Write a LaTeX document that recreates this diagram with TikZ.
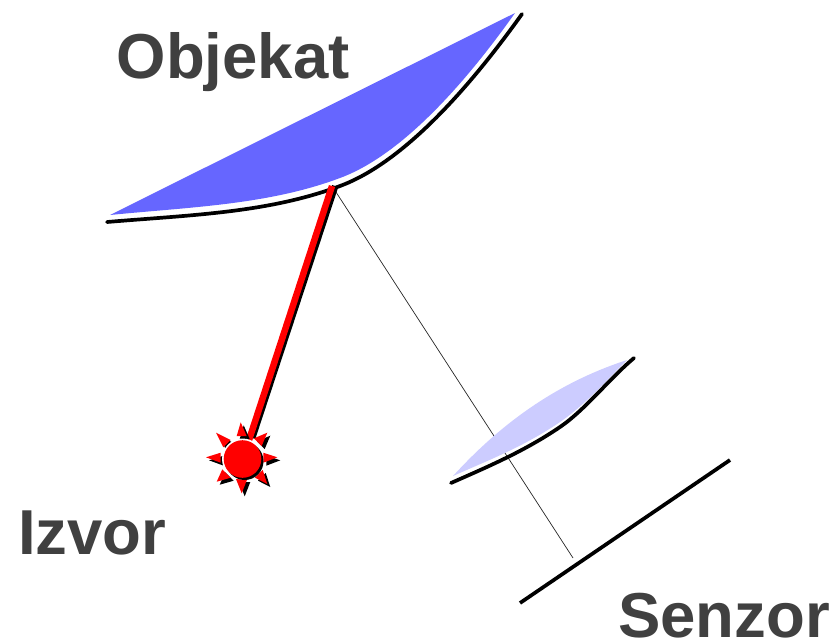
\documentclass[tikz,border=0pt]{standalone}
\usepackage{fontspec}
\setmainfont{Liberation Sans}
\definecolor{txt}{RGB}{64,64,64}
\definecolor{mirror}{RGB}{102,102,255}
\definecolor{lensc}{RGB}{204,204,255}
\tikzset{
  lab/.style={anchor=base west,inner sep=0pt,text=txt,font=\fontsize{63.5}{70}\selectfont\bfseries},
  curve/.style={draw=black,line width=3.7pt,line cap=round},
  ray/.style={black!85,line width=0.7pt}
}
\begin{document}
\begin{tikzpicture}[x=1pt,y=-1pt]
\useasboundingbox (0,0) rectangle (834,643);
\node[lab] (obj) at (116.5,78) {Objekat};
\node[lab] (izv) at (18,554) {Izvor};
\node[lab] (sen) at (618,637) {Senzor};
\coordinate (hit) at (334,189);
\coordinate (sensorhit) at (573,558);
\coordinate (sunc) at (242.5,459);
\coordinate (beamtop) at (332,186);
\coordinate (beambot) at (249,440);
% thin ray
\draw[ray] (hit) -- (sensorhit);
% object mirror
\fill[mirror] (110,215) .. controls (190,207) and (268,205) .. (340,178) .. controls (405,154) and (470,76.5) .. (515,13) -- cycle;
\draw[curve] (107,222) .. controls (190,215) and (268,213) .. (340,186) .. controls (405,162) and (472,84) .. (522,14);
% lens
\fill[lensc] (453,476) .. controls (495,430) and (550,385) .. (627,360) .. controls (607,380) and (585,405) .. (560,422) .. controls (524,446.5) and (489,460) .. (453,476) -- cycle;
\draw[curve] (451,483) .. controls (487,467) and (524,451.5) .. (560,427) .. controls (585,410) and (610,378) .. (634,358);
% sensor
\draw[curve,line cap=butt] (520,603) -- (730,460);
% beam
\draw[line width=6.5pt,black] ([xshift=3.2pt]beamtop) -- ([xshift=3.2pt,yshift=2pt]beambot);
\draw[line width=6.5pt,red] (beamtop) -- (beambot);
% sun rays: shadows, then rays
\foreach \ax/\ay/\bx/\by/\cx/\cy in {
  240.7/422.3/236.7/436/246.7/436,
  277.3/457.3/263.3/452.7/263.3/462.7,
  206/457.3/220.7/452.7/220.7/462.7,
  241.7/493.3/236/479/247.3/479,
  267.3/432.7/254/438.3/261.7/446,
  216/432.7/230.7/440/223.3/447.3,
  216.7/481.7/222.3/469.3/230.7/477.7,
  267.3/484/255/477.7/262.7/470}{
  \fill[black,shift={(3,3)}] (\ax,\ay) -- (\bx,\by) -- (\cx,\cy) -- cycle;
  \fill[red] (\ax,\ay) -- (\bx,\by) -- (\cx,\cy) -- cycle;
}
\fill[white] (sunc) circle (20.5);
\fill[black] ([shift={(2.2,2.2)}]sunc) circle (18.8);
\fill[red] (sunc) circle (18.8);
\end{tikzpicture}
\end{document}
